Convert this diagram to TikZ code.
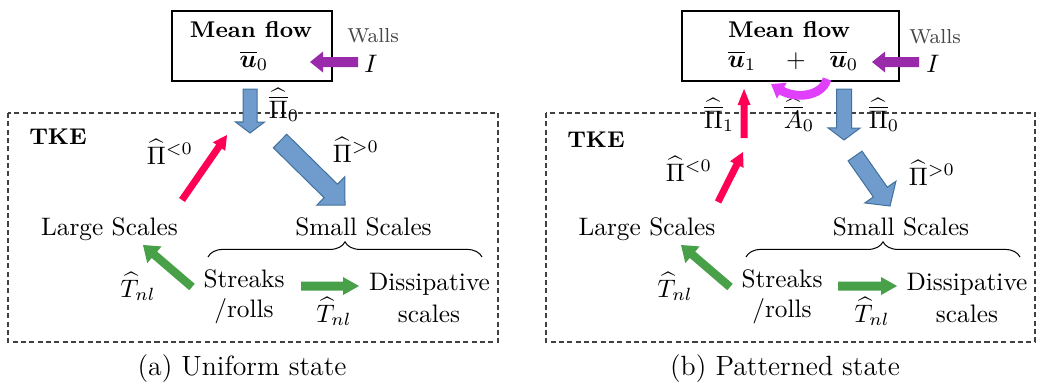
\documentclass[tikz,border=0pt]{standalone}
\usepackage{amsmath,amssymb,bm}
\usepackage{tikz}
\usetikzlibrary{calc,arrows.meta,decorations.pathreplacing}

\definecolor{flowblue}{RGB}{112,155,205}
\definecolor{flowblueline}{RGB}{65,113,156}
\definecolor{backred}{RGB}{255,0,84}
\definecolor{nlgreen}{RGB}{72,160,72}
\definecolor{wallpurple}{RGB}{153,43,170}
\definecolor{advmagenta}{RGB}{224,64,251}
\definecolor{wallgray}{RGB}{70,70,70}

% block arrow: style, from, to, half shaft, half head, head length
\newcommand{\fatarrow}[6]{%
  \path ($(#3)!#6!(#2)$) coordinate (fa-b);
  \path[#1] ($(#2)!#4!90:(#3)$) -- ($(fa-b)!#4!90:(#3)$) -- ($(fa-b)!#5!90:(#3)$) -- (#3)
    -- ($(fa-b)!#5!-90:(#3)$) -- ($(fa-b)!#4!-90:(#3)$) -- ($(#2)!#4!-90:(#3)$) -- cycle;}

\begin{document}
\begin{tikzpicture}[scale=0.139]
\tikzstyle{every node}+=[inner sep=0pt]
\tikzstyle{lbl}=[anchor=base]
\tikzstyle{mbox}=[draw=black, line width=0.5pt]
\tikzstyle{tkebox}=[draw=black!75, line width=0.5pt, dash pattern=on 2pt off 1.3pt]
\tikzstyle{bluearr}=[fill=flowblue, draw=flowblueline, line width=0.4pt]
\tikzstyle{redarr}=[fill=backred]
\tikzstyle{greenarr}=[fill=nlgreen]
\tikzstyle{purparr}=[fill=wallpurple]
\useasboundingbox (0,0) rectangle (103.8,-38.4);

% (a) uniform state
\draw [tkebox] (0.8,-11.3) rectangle (49.8,-34.2);
\node [mbox, minimum width=63.3pt, minimum height=27.7pt] (boxA) at (25.2,-4.6) {};
\node [lbl] (mfA) at (25.1,-3.7) {\small\bfseries Mean flow};
\node [lbl] (uA) at (25.4,-6.7) {$\overline{\bm{u}}_0$};
\node [lbl, text=wallgray] (wallsA) at (37.3,-4.2) {\footnotesize Walls};
\node [lbl] (IA) at (37.1,-7.2) {$I$};
\node [lbl] (PiA0) at (28.4,-11.8) {$\widehat{\overline{\Pi}}_0$};
\node [lbl] (tkeA) at (5.8,-14.4) {\small\bfseries TKE};
\node [lbl] (PiAneg) at (17.0,-16.4) {$\widehat{\Pi}^{<0}$};
\node [lbl] (PiApos) at (35.6,-16.2) {$\widehat{\Pi}^{>0}$};
\node [lbl] (largeA) at (10.95,-23.5) {Large Scales};
\node [lbl] (smallA) at (36.35,-23.5) {Small Scales};
\node [lbl] (streaksA) at (24.4,-28.7) {Streaks};
\node [lbl] (rollsA) at (24.4,-31.7) {/rolls};
\node [lbl] (dissA) at (42.95,-29.0) {Dissipative};
\node [lbl] (scalesA) at (42.9,-32.2) {scales};
\node [lbl] (TnlA1) at (13.8,-29.7) {$\widehat{T}_{nl}$};
\node [lbl] (TnlA2) at (33.4,-32.2) {$\widehat{T}_{nl}$};
\node [lbl] (capA) at (24.2,-37.5) {\fontsize{11}{13}\selectfont (a) Uniform state};
\coordinate (wA1) at (35.8,-6.2);
\coordinate (wA2) at (31.0,-6.2);
\coordinate (mA1) at (25.0,-8.9);
\coordinate (mA2) at (25.0,-13.3);
\coordinate (sA1) at (28.0,-14.1);
\coordinate (sA2) at (34.5,-20.5);
\coordinate (lA1) at (18.2,-20.0);
\coordinate (lA2) at (22.7,-13.5);
\coordinate (gA1) at (19.2,-28.7);
\coordinate (gA2) at (14.3,-24.5);
\coordinate (hA1) at (30.1,-28.6);
\coordinate (hA2) at (35.9,-28.6);
\draw [decorate, decoration={brace, amplitude=6pt}, line width=0.4pt] (20.8,-25.7) -- (48.2,-25.7);
\fatarrow{purparr}{wA1}{wA2}{0.5cm}{1.05cm}{1.3cm}
\fatarrow{bluearr}{mA1}{mA2}{0.7cm}{1.45cm}{1.1cm}
\fatarrow{bluearr}{sA1}{sA2}{0.95cm}{2cm}{2cm}
\fatarrow{redarr}{lA1}{lA2}{0.35cm}{0.75cm}{1.4cm}
\fatarrow{greenarr}{gA1}{gA2}{0.42cm}{1.1cm}{1.5cm}
\fatarrow{greenarr}{hA1}{hA2}{0.45cm}{0.9cm}{1.6cm}

% (b) patterned state
\draw [tkebox] (54.6,-11.3) rectangle (103.5,-34.2);
\node [mbox, minimum width=85.8pt, minimum height=27.7pt] (boxB) at (79.05,-4.6) {};
\node [lbl] (mfB) at (78.9,-3.7) {\small\bfseries Mean flow};
\node [lbl] (u1B) at (74.2,-6.7) {$\overline{\bm{u}}_1$};
\node [lbl] (plusB) at (79.6,-6.7) {$+$};
\node [lbl] (u0B) at (84.4,-6.7) {$\overline{\bm{u}}_0$};
\node [lbl, text=wallgray] (wallsB) at (93.5,-4.3) {\footnotesize Walls};
\node [lbl] (IB) at (93.3,-7.2) {$I$};
\node [lbl] (PiB1) at (71.9,-12.8) {$\widehat{\overline{\Pi}}_1$};
\node [lbl] (AB0) at (79.9,-12.8) {$\widehat{\overline{A}}_0$};
\node [lbl] (PiB0) at (88.4,-12.8) {$\widehat{\overline{\Pi}}_0$};
\node [lbl] (tkeB) at (59.6,-14.7) {\small\bfseries TKE};
\node [lbl] (PiBneg) at (68.9,-18.1) {$\widehat{\Pi}^{<0}$};
\node [lbl] (PiBpos) at (93.2,-18.5) {$\widehat{\Pi}^{>0}$};
\node [lbl] (largeB) at (64.7,-23.5) {Large Scales};
\node [lbl] (smallB) at (90.1,-23.5) {Small Scales};
\node [lbl] (streaksB) at (78.2,-28.7) {Streaks};
\node [lbl] (rollsB) at (78.2,-31.7) {/rolls};
\node [lbl] (dissB) at (96.7,-29.0) {Dissipative};
\node [lbl] (scalesB) at (96.7,-32.2) {scales};
\node [lbl] (TnlB1) at (67.5,-29.7) {$\widehat{T}_{nl}$};
\node [lbl] (TnlB2) at (87.2,-32.2) {$\widehat{T}_{nl}$};
\node [lbl] (capB) at (78.5,-37.5) {\fontsize{11}{13}\selectfont (b) Patterned state};
\coordinate (wB1) at (91.9,-6.2);
\coordinate (wB2) at (87.2,-6.2);
\coordinate (mB1) at (84.4,-8.9);
\coordinate (mB2) at (84.4,-14.0);
\coordinate (rB1) at (74.4,-13.8);
\coordinate (rB2) at (74.4,-8.9);
\coordinate (lB1) at (71.8,-20.2);
\coordinate (lB2) at (74.3,-15.2);
\coordinate (sB1) at (85.5,-15.6);
\coordinate (sB2) at (89.0,-20.6);
\coordinate (gB1) at (73.0,-28.7);
\coordinate (gB2) at (68.1,-24.5);
\coordinate (hB1) at (83.8,-28.6);
\coordinate (hB2) at (89.7,-28.6);
\coordinate (arcS) at (82.7,-7.9);
\coordinate (arcE) at (77.1,-8.4);
\draw [decorate, decoration={brace, amplitude=6pt}, line width=0.4pt] (74.6,-25.7) -- (102.0,-25.7);
\fatarrow{purparr}{wB1}{wB2}{0.5cm}{1.05cm}{1.3cm}
\fatarrow{bluearr}{mB1}{mB2}{0.75cm}{1.6cm}{1.2cm}
\fatarrow{redarr}{rB1}{rB2}{0.35cm}{0.65cm}{1.6cm}
\fatarrow{redarr}{lB1}{lB2}{0.35cm}{0.75cm}{1.4cm}
\fatarrow{bluearr}{sB1}{sB2}{0.85cm}{1.9cm}{1.7cm}
\fatarrow{greenarr}{gB1}{gB2}{0.42cm}{1.1cm}{1.5cm}
\fatarrow{greenarr}{hB1}{hB2}{0.45cm}{0.9cm}{1.6cm}
\draw [advmagenta, line width=3.5pt, -{Triangle[width=7pt,length=5pt]}] (arcS) .. controls (82.2,-9.7) and (79.5,-9.9) .. (arcE);
\end{tikzpicture}
\end{document}
